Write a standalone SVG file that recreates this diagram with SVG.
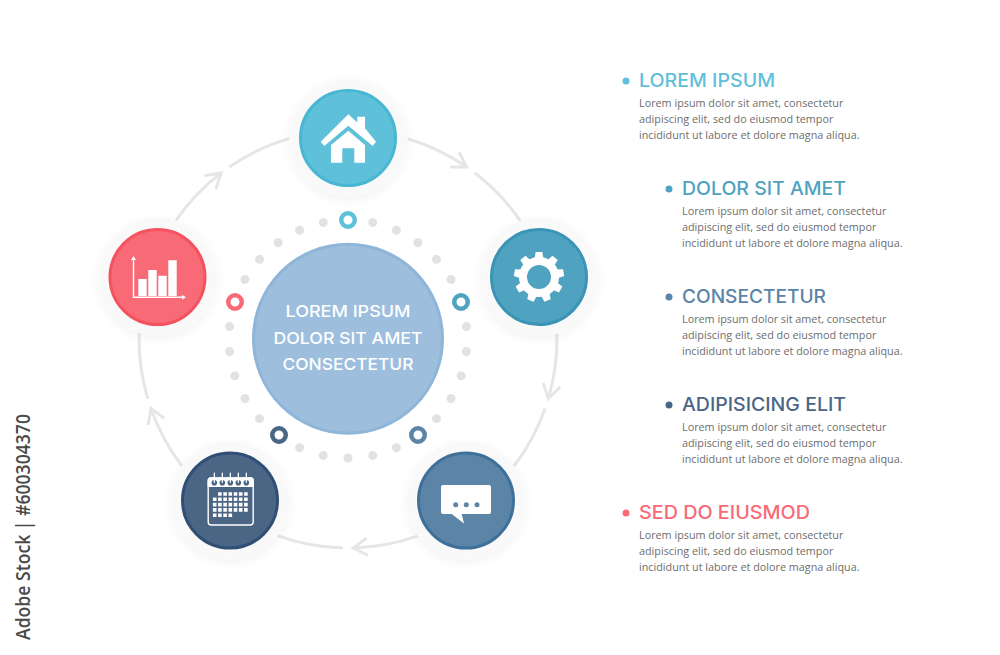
<svg xmlns="http://www.w3.org/2000/svg" xmlns:xlink="http://www.w3.org/1999/xlink" width="1000" height="655" viewBox="0 0 1000 655">
<style>
.arc{fill:none;stroke:#e6e6e6;stroke-width:3;stroke-linecap:butt}
.halo{fill:#f9f9f9;filter:url(#soft)}
.dot{fill:#e2e2e2}
.ring{fill:#fff;stroke-width:4.5}
.ic{fill:#fff}
.h{font-family:"Inter","Liberation Sans",sans-serif;font-size:18.5px;font-weight:500}
.b{font-family:"Open Sans","Liberation Sans",sans-serif;font-size:10.8px;fill:#6e6e6e}
.c{font-family:"Inter","Liberation Sans",sans-serif;font-size:16.5px;font-weight:500;fill:#fff;text-anchor:middle}
</style>
<defs>
<filter id="soft" x="-30%" y="-30%" width="160%" height="160%"><feDropShadow dx="0" dy="3" stdDeviation="5" flood-color="#000" flood-opacity="0.05"/></filter>
<circle id="d" class="dot" cx="348" cy="220" r="4.5"/>
<g id="seg">
<path class="arc" d="M407.7 138.7A209 209 0 0 1 466.7 167M450 167L466.7 167L459 152M474.9 173A209 209 0 0 1 521.3 222.2"/>
</g>
</defs>
<rect width="1000" height="655" fill="#fff"/>
<g id="connectors">
<use href="#seg"/>
<use href="#seg" transform="rotate(72 348 339)"/>
<use href="#seg" transform="rotate(144 348 339)"/>
<use href="#seg" transform="rotate(216 348 339)"/>
<use href="#seg" transform="rotate(288 348 339)"/>
</g>
<g id="dots">
<use href="#d" transform="rotate(12 348 339)"/><use href="#d" transform="rotate(24 348 339)"/><use href="#d" transform="rotate(36 348 339)"/><use href="#d" transform="rotate(48 348 339)"/><use href="#d" transform="rotate(60 348 339)"/>
<use href="#d" transform="rotate(84 348 339)"/><use href="#d" transform="rotate(96 348 339)"/><use href="#d" transform="rotate(108 348 339)"/><use href="#d" transform="rotate(120 348 339)"/><use href="#d" transform="rotate(132 348 339)"/>
<use href="#d" transform="rotate(156 348 339)"/><use href="#d" transform="rotate(168 348 339)"/><use href="#d" transform="rotate(180 348 339)"/><use href="#d" transform="rotate(192 348 339)"/><use href="#d" transform="rotate(204 348 339)"/>
<use href="#d" transform="rotate(228 348 339)"/><use href="#d" transform="rotate(240 348 339)"/><use href="#d" transform="rotate(252 348 339)"/><use href="#d" transform="rotate(264 348 339)"/><use href="#d" transform="rotate(276 348 339)"/>
<use href="#d" transform="rotate(300 348 339)"/><use href="#d" transform="rotate(312 348 339)"/><use href="#d" transform="rotate(324 348 339)"/><use href="#d" transform="rotate(336 348 339)"/><use href="#d" transform="rotate(348 348 339)"/>
</g>
<g id="rings">
<circle class="ring" cx="348" cy="220" r="6.75" stroke="#5fc0d9"/>
<circle class="ring" cx="461" cy="302" r="6.75" stroke="#4fa3c1"/>
<circle class="ring" cx="418" cy="435" r="6.75" stroke="#5b84a7"/>
<circle class="ring" cx="279" cy="435" r="6.75" stroke="#4b6585"/>
<circle class="ring" cx="235" cy="302" r="6.75" stroke="#f96a77"/>
</g>
<g id="center">
<circle cx="348" cy="338.7" r="94.5" fill="#9dbedd" stroke="#8fb5d9" stroke-width="3"/>
<text class="c" x="348" y="317" textLength="125" lengthAdjust="spacingAndGlyphs">LOREM IPSUM</text>
<text class="c" x="348" y="343.5" textLength="149" lengthAdjust="spacingAndGlyphs">DOLOR SIT AMET</text>
<text class="c" x="348" y="370" textLength="131" lengthAdjust="spacingAndGlyphs">CONSECTETUR</text>
</g>
<g id="node-home">
<circle class="halo" cx="348" cy="138" r="59"/>
<circle cx="348" cy="138" r="47.5" fill="#5fc0d9" stroke="#48b7d3" stroke-width="3"/>
<path class="ic" d="M320.7 141.7L348.3 114.3L357.3 122.5V116.7H365V128.3L376 141.7L372.7 146L348.3 125.7L324.3 146Z"/>
<path class="ic" d="M331 145L348.3 130.7L365 145V162.7H354.3V148.3H342.3V162.7H331Z"/>
</g>
<g id="node-gear">
<circle class="halo" cx="539" cy="277" r="59"/>
<circle cx="539" cy="277" r="47.5" fill="#4fa3c1" stroke="#3a94b5" stroke-width="3"/>
<circle cx="539" cy="277" r="16" fill="none" stroke="#fff" stroke-width="8"/>
<g class="ic">
<path d="M534.6 259L535.6 252H542.4L543.4 259Z"/>
<path d="M534.6 259L535.6 252H542.4L543.4 259Z" transform="rotate(40 539 277)"/>
<path d="M534.6 259L535.6 252H542.4L543.4 259Z" transform="rotate(80 539 277)"/>
<path d="M534.6 259L535.6 252H542.4L543.4 259Z" transform="rotate(120 539 277)"/>
<path d="M534.6 259L535.6 252H542.4L543.4 259Z" transform="rotate(160 539 277)"/>
<path d="M534.6 259L535.6 252H542.4L543.4 259Z" transform="rotate(200 539 277)"/>
<path d="M534.6 259L535.6 252H542.4L543.4 259Z" transform="rotate(240 539 277)"/>
<path d="M534.6 259L535.6 252H542.4L543.4 259Z" transform="rotate(280 539 277)"/>
<path d="M534.6 259L535.6 252H542.4L543.4 259Z" transform="rotate(320 539 277)"/>
</g>
</g>
<g id="node-chat">
<circle class="halo" cx="466" cy="500.5" r="59"/>
<circle cx="466" cy="500.5" r="47.5" fill="#5b84a7" stroke="#3f7099" stroke-width="3"/>
<path class="ic" d="M443 485H489Q491 485 491 487V512Q491 514 489 514H461.7L464 523.5L451.7 514H443Q441 514 441 512V487Q441 485 443 485Z"/>
<circle cx="455.7" cy="504.7" r="2.5" fill="#5b84a7"/><circle cx="466.3" cy="504.7" r="2.5" fill="#5b84a7"/><circle cx="477" cy="504.7" r="2.5" fill="#5b84a7"/>
</g>
<g id="node-calendar">
<circle class="halo" cx="230" cy="500.5" r="59"/>
<circle cx="230" cy="500.5" r="47.5" fill="#4b6585" stroke="#2f4f75" stroke-width="3"/>
<rect x="208.2" y="478" width="45" height="47" rx="3" fill="none" stroke="#fff" stroke-width="1.4"/>
<path class="ic" d="M211 477.3H250.5Q253.9 477.3 253.9 480.7V487H207.6V480.7Q207.6 477.3 211 477.3Z"/>
<g fill="#4b6585"><circle cx="214.3" cy="482.7" r="2.8"/><circle cx="222.3" cy="482.7" r="2.8"/><circle cx="230.3" cy="482.7" r="2.8"/><circle cx="238.3" cy="482.7" r="2.8"/><circle cx="246.3" cy="482.7" r="2.8"/></g>
<g class="ic"><rect x="213.7" y="472.7" width="1.3" height="10"/><rect x="221.7" y="472.7" width="1.3" height="10"/><rect x="229.7" y="472.7" width="1.3" height="10"/><rect x="237.7" y="472.7" width="1.3" height="10"/><rect x="245.7" y="472.7" width="1.3" height="10"/></g>
<path class="ic" d="M218.1 492.2h3.6v3.6h-3.6zM223.3 492.2h3.6v3.6h-3.6zM228.5 492.2h3.6v3.6h-3.6zM233.7 492.2h3.6v3.6h-3.6zM238.9 492.2h3.6v3.6h-3.6zM244.1 492.2h3.6v3.6h-3.6z
M212.9 497.5h3.6v3.6h-3.6zM218.1 497.5h3.6v3.6h-3.6zM223.3 497.5h3.6v3.6h-3.6zM228.5 497.5h3.6v3.6h-3.6zM233.7 497.5h3.6v3.6h-3.6zM238.9 497.5h3.6v3.6h-3.6zM244.1 497.5h3.6v3.6h-3.6z
M212.9 502.8h3.6v3.6h-3.6zM218.1 502.8h3.6v3.6h-3.6zM223.3 502.8h3.6v3.6h-3.6zM228.5 502.8h3.6v3.6h-3.6zM233.7 502.8h3.6v3.6h-3.6zM238.9 502.8h3.6v3.6h-3.6zM244.1 502.8h3.6v3.6h-3.6z
M212.9 508.1h3.6v3.6h-3.6zM218.1 508.1h3.6v3.6h-3.6zM223.3 508.1h3.6v3.6h-3.6zM228.5 508.1h3.6v3.6h-3.6zM233.7 508.1h3.6v3.6h-3.6zM238.9 508.1h3.6v3.6h-3.6zM244.1 508.1h3.6v3.6h-3.6z
M212.9 513.4h3.6v3.6h-3.6zM218.1 513.4h3.6v3.6h-3.6zM223.3 513.4h3.6v3.6h-3.6zM228.5 513.4h3.6v3.6h-3.6z"/>
</g>
<g id="node-chart">
<circle class="halo" cx="157.5" cy="277" r="59"/>
<circle cx="157.5" cy="277" r="47.5" fill="#f96a77" stroke="#f4525f" stroke-width="3"/>
<path class="ic" d="M138.3 279H146.7V296H138.3ZM148.3 270H156.7V296H148.3ZM158.3 275.7H166.7V296H158.3ZM168.3 260.3H176.7V296H168.3Z"/>
<path class="ic" d="M132.8 260H131L133.5 256L136 260H134.2V296.6H182V295L186 297.3L182 299.6V298H132.8Z"/>
</g>
<g id="item-1">
<circle cx="626" cy="81" r="3.5" fill="#5fc0d9"/>
<text class="h" x="639" y="87" fill="#5fc0d9" textLength="136" lengthAdjust="spacingAndGlyphs">LOREM IPSUM</text>
<text class="b" x="639" y="107">Lorem ipsum dolor sit amet, consectetur</text>
<text class="b" x="639" y="123">adipiscing elit, sed do eiusmod tempor</text>
<text class="b" x="639" y="139">incididunt ut labore et dolore magna aliqua.</text>
</g>
<g id="item-2">
<circle cx="669" cy="189" r="3.5" fill="#4fa3c1"/>
<text class="h" x="682" y="195" fill="#4fa3c1" textLength="164" lengthAdjust="spacingAndGlyphs">DOLOR SIT AMET</text>
<text class="b" x="682" y="215">Lorem ipsum dolor sit amet, consectetur</text>
<text class="b" x="682" y="231">adipiscing elit, sed do eiusmod tempor</text>
<text class="b" x="682" y="247">incididunt ut labore et dolore magna aliqua.</text>
</g>
<g id="item-3">
<circle cx="669" cy="297" r="3.5" fill="#5b84a7"/>
<text class="h" x="682" y="303" fill="#5b84a7" textLength="144" lengthAdjust="spacingAndGlyphs">CONSECTETUR</text>
<text class="b" x="682" y="323">Lorem ipsum dolor sit amet, consectetur</text>
<text class="b" x="682" y="339">adipiscing elit, sed do eiusmod tempor</text>
<text class="b" x="682" y="355">incididunt ut labore et dolore magna aliqua.</text>
</g>
<g id="item-4">
<circle cx="669" cy="405" r="3.5" fill="#4b6585"/>
<text class="h" x="682" y="411" fill="#4b6585" textLength="164" lengthAdjust="spacingAndGlyphs">ADIPISICING ELIT</text>
<text class="b" x="682" y="431">Lorem ipsum dolor sit amet, consectetur</text>
<text class="b" x="682" y="447">adipiscing elit, sed do eiusmod tempor</text>
<text class="b" x="682" y="463">incididunt ut labore et dolore magna aliqua.</text>
</g>
<g id="item-5">
<circle cx="626" cy="513" r="3.5" fill="#f96a77"/>
<text class="h" x="639" y="519" fill="#f96a77" textLength="171" lengthAdjust="spacingAndGlyphs">SED DO EIUSMOD</text>
<text class="b" x="639" y="539">Lorem ipsum dolor sit amet, consectetur</text>
<text class="b" x="639" y="555">adipiscing elit, sed do eiusmod tempor</text>
<text class="b" x="639" y="571">incididunt ut labore et dolore magna aliqua.</text>
</g>
<text transform="translate(30 640) rotate(-90)" font-family="'Open Sans','Liberation Sans',sans-serif" font-size="19" font-weight="600" fill="#4a4a4a" textLength="226" lengthAdjust="spacingAndGlyphs">Adobe Stock | #600304370</text>
</svg>
